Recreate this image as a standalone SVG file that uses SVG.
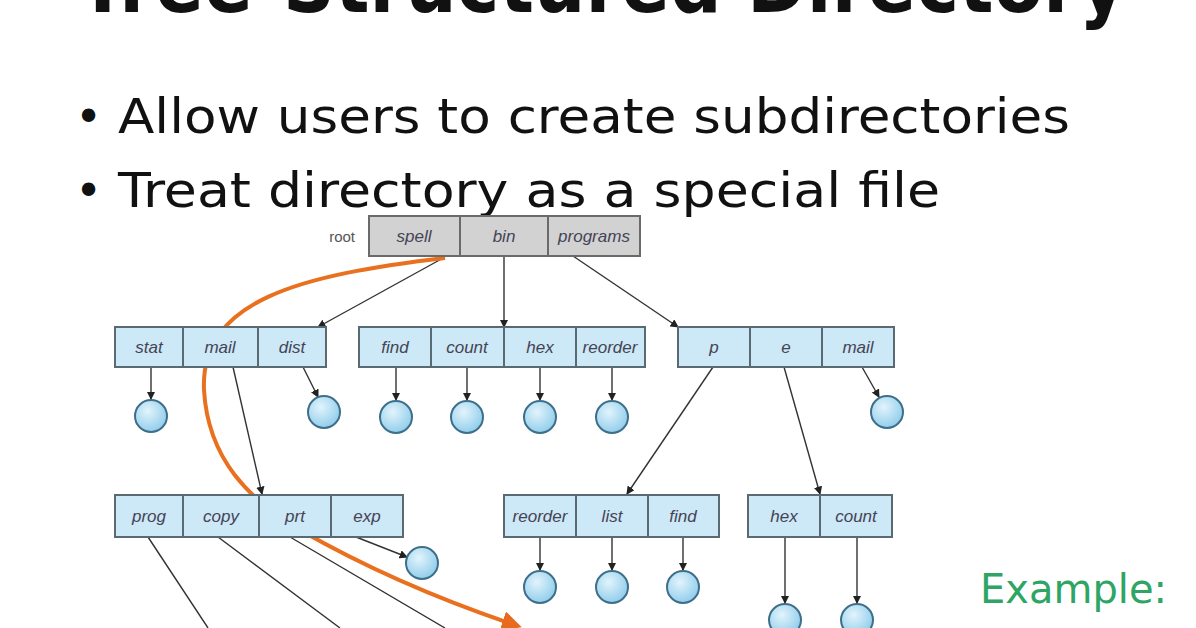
<svg xmlns="http://www.w3.org/2000/svg" width="1196" height="628" viewBox="0 0 1196 628">
<style>
.t{font-family:"DejaVu Sans","Liberation Sans",sans-serif;fill:#111}
.c{fill:#cde8f6;stroke:#5a6a72;stroke-width:2}
.r{fill:#d2d2d2;stroke:#6a6a6a;stroke-width:2}
.l{font-family:"Liberation Sans",sans-serif;font-style:italic;font-size:17px;fill:#445;text-anchor:middle}
.f{fill:url(#g);stroke:#3d6f8a;stroke-width:2}
.k{stroke:#333;stroke-width:1.4;fill:none;marker-end:url(#a)}
</style>
<defs>
<marker id="a" viewBox="0 0 8 8" refX="7" refY="4" markerWidth="6" markerHeight="6" orient="auto"><path d="M0,0L8,4L0,8z" fill="#222"/></marker>
<marker id="o" viewBox="0 0 10 10" refX="8" refY="5" markerWidth="5" markerHeight="5" orient="auto"><path d="M0,0L10,5L0,10z" fill="#e86a1e"/></marker>
<radialGradient id="g" cx="0.4" cy="0.35" r="0.7"><stop offset="0" stop-color="#e2f4fc"/><stop offset="1" stop-color="#8ccbea"/></radialGradient>
</defs>
<rect width="1196" height="628" fill="#fff"/>
<text class="t" x="78" y="12" font-size="82" font-weight="bold" textLength="1048" lengthAdjust="spacingAndGlyphs">Tree-Structured Directory</text>
<text class="t" x="75" y="133" font-size="46">•</text>
<text class="t" x="118" y="133" font-size="48" textLength="952" lengthAdjust="spacingAndGlyphs">Allow users to create subdirectories</text>
<text class="t" x="75" y="207" font-size="46">•</text>
<text class="t" x="118" y="207" font-size="48" textLength="822" lengthAdjust="spacingAndGlyphs">Treat directory as a special file</text>
<text x="980" y="603" font-family="DejaVu Sans,sans-serif" font-size="40" fill="#2ea565">Example:</text>

<g id="connectors">
<path class="k" d="M445,257L318,327"/>
<path class="k" d="M504,256L504,327"/>
<path class="k" d="M573,256L678,327"/>
<path class="k" d="M233,367L262,494"/>
<path class="k" d="M713,367L627,494"/>
<path class="k" d="M784,367L820,494"/>
<path class="k" d="M151,367L151,399"/>
<path class="k" d="M303,367L318,397"/>
<path class="k" d="M396,367L396,400"/>
<path class="k" d="M467,367L467,400"/>
<path class="k" d="M540,367L540,400"/>
<path class="k" d="M612,367L612,400"/>
<path class="k" d="M862,367L879,397"/>
<path class="k" d="M356,537L407,557"/>
<path class="k" d="M540,537L540,570"/>
<path class="k" d="M612,537L612,570"/>
<path class="k" d="M683,537L683,570"/>
<path class="k" d="M785,537L785,603"/>
<path class="k" d="M857,537L857,603"/>
<path d="M148,537L208,628M218,537L340,628M290,537L445,628" stroke="#333" stroke-width="1.4" fill="none"/>
<path d="M445,258C300,275 200,300 204,390C208,460 250,500 300,530C370,570 440,600 518,626" stroke="#e8701e" stroke-width="4" fill="none" marker-end="url(#o)"/>
</g>

<g id="root">
<text x="355" y="242" font-family="Liberation Sans,sans-serif" font-size="15" fill="#555" text-anchor="end">root</text>
<rect class="r" x="369" y="216" width="91" height="40"/><rect class="r" x="460" y="216" width="88" height="40"/><rect class="r" x="548" y="216" width="92" height="40"/>
<text class="l" x="414" y="242">spell</text><text class="l" x="504" y="242">bin</text><text class="l" x="594" y="242">programs</text>
</g>
<g id="dir-spell">
<rect class="c" x="115" y="327" width="68" height="40"/><rect class="c" x="183" y="327" width="75" height="40"/><rect class="c" x="258" y="327" width="68" height="40"/>
<text class="l" x="149" y="353">stat</text><text class="l" x="220" y="353">mail</text><text class="l" x="292" y="353">dist</text>
</g>
<g id="dir-bin">
<rect class="c" x="359" y="327" width="72" height="40"/><rect class="c" x="431" y="327" width="73" height="40"/><rect class="c" x="504" y="327" width="72" height="40"/><rect class="c" x="576" y="327" width="69" height="40"/>
<text class="l" x="395" y="353">find</text><text class="l" x="467" y="353">count</text><text class="l" x="540" y="353">hex</text><text class="l" x="610" y="353">reorder</text>
</g>
<g id="dir-programs">
<rect class="c" x="678" y="327" width="72" height="40"/><rect class="c" x="750" y="327" width="72" height="40"/><rect class="c" x="822" y="327" width="72" height="40"/>
<text class="l" x="714" y="353">p</text><text class="l" x="786" y="353">e</text><text class="l" x="858" y="353">mail</text>
</g>
<g id="dir-mail">
<rect class="c" x="115" y="495" width="68" height="42"/><rect class="c" x="183" y="495" width="76" height="42"/><rect class="c" x="259" y="495" width="72" height="42"/><rect class="c" x="331" y="495" width="72" height="42"/>
<text class="l" x="149" y="522">prog</text><text class="l" x="221" y="522">copy</text><text class="l" x="295" y="522">prt</text><text class="l" x="367" y="522">exp</text>
</g>
<g id="dir-p">
<rect class="c" x="504" y="495" width="72" height="42"/><rect class="c" x="576" y="495" width="72" height="42"/><rect class="c" x="648" y="495" width="71" height="42"/>
<text class="l" x="540" y="522">reorder</text><text class="l" x="612" y="522">list</text><text class="l" x="683" y="522">find</text>
</g>
<g id="dir-e">
<rect class="c" x="748" y="495" width="72" height="42"/><rect class="c" x="820" y="495" width="72" height="42"/>
<text class="l" x="784" y="522">hex</text><text class="l" x="856" y="522">count</text>
</g>
<g id="files">
<circle class="f" cx="151" cy="416" r="16"/>
<circle class="f" cx="324" cy="412" r="16"/>
<circle class="f" cx="396" cy="417" r="16"/>
<circle class="f" cx="467" cy="417" r="16"/>
<circle class="f" cx="540" cy="417" r="16"/>
<circle class="f" cx="612" cy="417" r="16"/>
<circle class="f" cx="887" cy="412" r="16"/>
<circle class="f" cx="422" cy="563" r="16"/>
<circle class="f" cx="540" cy="587" r="16"/>
<circle class="f" cx="612" cy="587" r="16"/>
<circle class="f" cx="683" cy="587" r="16"/>
<circle class="f" cx="785" cy="620" r="16"/>
<circle class="f" cx="857" cy="620" r="16"/>
</g>
</svg>
